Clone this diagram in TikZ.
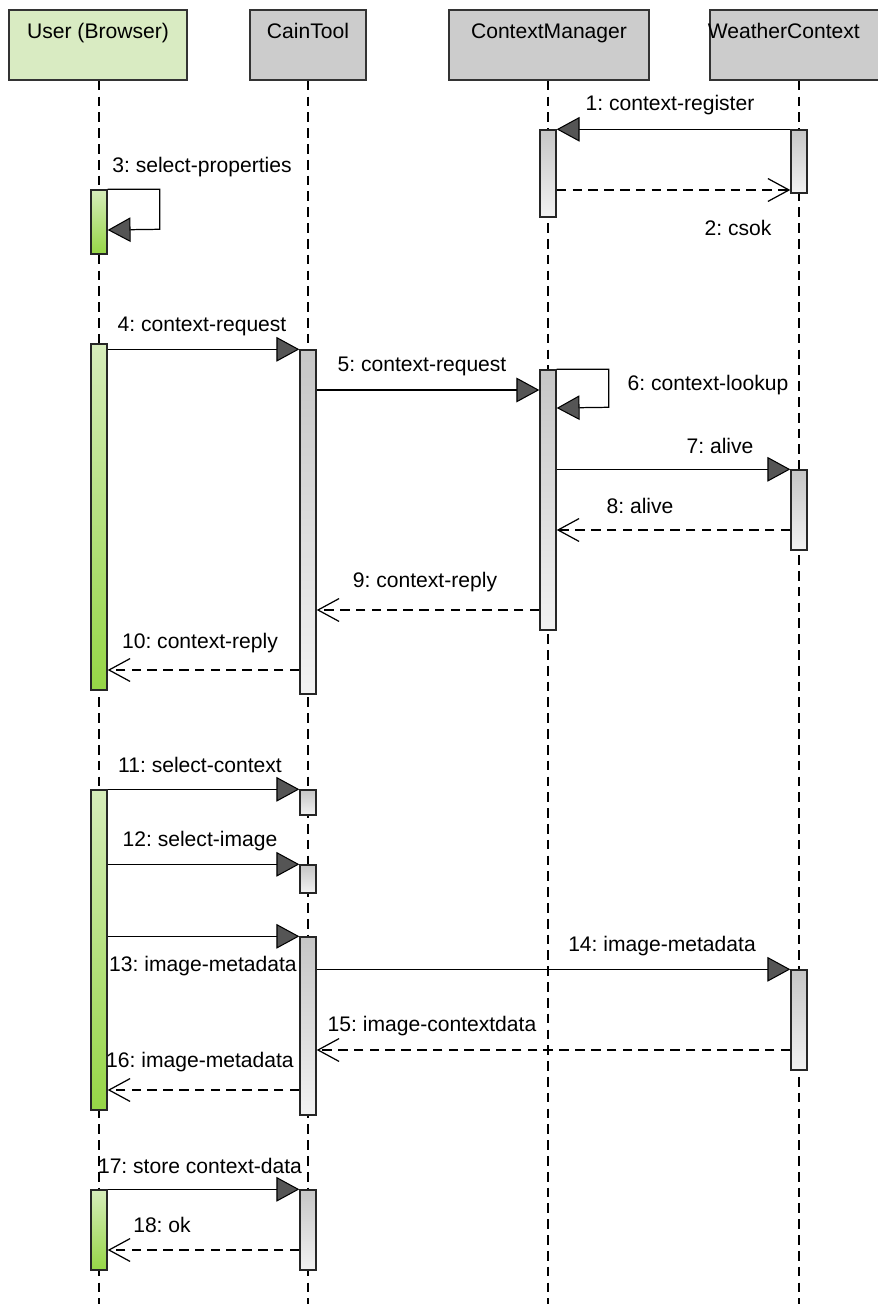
\documentclass[tikz,border=0pt]{standalone}
\usepackage{fontspec}
\setmainfont{Liberation Sans}
\usetikzlibrary{arrows.meta}
\frenchspacing

\definecolor{headgray}{HTML}{CCCCCC}
\definecolor{headgreen}{HTML}{D9EBC2}
\definecolor{greenlight}{HTML}{D6ECBA}
\definecolor{greendark}{HTML}{96D646}
\definecolor{graytop}{HTML}{C6C6C6}
\definecolor{graybot}{HTML}{F2F2F2}
\definecolor{tipgray}{HTML}{555555}

\tikzset{
  head/.style={draw=black!80, line width=0.9pt, fill=headgray, minimum height=1.4cm, inner sep=0pt},
  life/.style={line width=0.7pt, dash pattern=on 5.5pt off 3.5pt},
  act/.style={draw=black!85, line width=0.8pt, minimum width=0.32cm, inner sep=0pt,
    top color=graytop, bottom color=graybot},
  useract/.style={act, top color=greenlight, bottom color=greendark},
  call/.style={line width=0.7pt, -{Triangle[length=13pt,width=14pt,fill=tipgray,line width=0.6pt]}},
  reply/.style={line width=0.7pt, dash pattern=on 5.5pt off 3.5pt, -{Straight Barb[length=12pt,width=13pt,line width=0.7pt]}},
  msg/.style={font=\fontsize{12}{14}\selectfont, inner sep=0pt}
}

% bar: style, name, x, top, bottom
\newcommand{\actbar}[5]{\node[#1, minimum height={(#5-#4)*0.02cm}] (#2) at (#3,{(#4+#5)/2}) {};}

\begin{document}
\begin{tikzpicture}[x=0.02cm,y=-0.02cm]
  \useasboundingbox (0,0) rectangle (877,1304);

  % heads
  \node[head, fill=headgreen, minimum width=3.55cm] (user) at (98,45) {};
  \node[head, minimum width=2.32cm] (tool) at (308,45) {};
  \node[head, minimum width=4.0cm] (mgr) at (549,45) {};
  \node[head, minimum width=3.4cm] (wthr) at (795,45) {};
  \node[msg, anchor=north] (usert) at ([yshift=-8pt]user.north) {User (Browser)};
  \node[msg, anchor=north] (toolt) at ([yshift=-8pt]tool.north) {CainTool};
  \node[msg, anchor=north] (mgrt) at ([yshift=-8pt]mgr.north) {ContextManager};
  \node[msg, anchor=north west] (wthrt) at ([xshift=-1pt,yshift=-8pt]wthr.north west) {WeatherContext};

  % lifelines
  \foreach \n/\x in {user/99,tool/308,mgr/548,wthr/799}
    \draw[life] (\n.south -| \x,0) -- (\x,1304);

  % activations
  \actbar{act}{m1}{548}{130}{217}
  \actbar{act}{w1}{799}{130}{193}
  \actbar{useract}{u1}{99}{190}{254}
  \actbar{useract}{u2}{99}{344}{690}
  \actbar{act}{t1}{308}{350}{694}
  \actbar{act}{m2}{548}{370}{630}
  \actbar{act}{w2}{799}{470}{550}
  \actbar{useract}{u3}{99}{790}{1110}
  \actbar{act}{t2}{308}{790}{815}
  \actbar{act}{t3}{308}{865}{893}
  \actbar{act}{t4}{308}{937}{1115}
  \actbar{act}{w3}{799}{970}{1070}
  \actbar{useract}{u4}{99}{1190}{1270}
  \actbar{act}{t5}{308}{1190}{1270}

  % messages
  \draw[call] (w1.north west) -- (m1.north east);
  \draw[reply] (m1.east |- 0,190) -- (w1.west |- 0,190);
  \draw[call] (u1.north east) -- ++(52,0) -- ++(0,40) -- (u1.east |- 0,230);
  \draw[call] (u2.east |- t1.north) -- (t1.north west);
  \draw[call] (t1.east |- 0,390) -- (m2.west |- 0,390);
  \draw[call] (m2.north east) -- ++(52,0) -- ++(0,38) -- (m2.east |- 0,408);
  \draw[call] (m2.east |- w2.north) -- (w2.north west);
  \draw[reply] (w2.west |- 0,530) -- (m2.east |- 0,530);
  \draw[reply] (m2.west |- 0,610) -- (t1.east |- 0,610);
  \draw[reply] (t1.west |- 0,670) -- (u2.east |- 0,670);
  \draw[call] (u3.north east) -- (t2.north west);
  \draw[call] (u3.east |- t3.north) -- (t3.north west);
  \draw[call] (u3.east |- t4.north) -- (t4.north west);
  \draw[call] (t4.east |- w3.north) -- (w3.north west);
  \draw[reply] (w3.west |- 0,1050) -- (t4.east |- 0,1050);
  \draw[reply] (t4.west |- 0,1090) -- (u3.east |- 0,1090);
  \draw[call] (u4.north east) -- (t5.north west);
  \draw[reply] (t5.west |- 0,1250) -- (u4.east |- 0,1250);

  % labels
  \node[msg] (l1) at (670,105) {1: context-register};
  \node[msg] (l2) at (738,228) {2: csok};
  \node[msg] (l3) at (202,167) {3: select-properties};
  \node[msg] (l4) at (202,326) {4: context-request};
  \node[msg] (l5) at (422,366) {5: context-request};
  \node[msg] (l6) at (708,385) {6: context-lookup};
  \node[msg] (l7) at (720,446) {7: alive};
  \node[msg] (l8) at (640,506) {8: alive};
  \node[msg] (l9) at (425,582) {9: context-reply};
  \node[msg] (l10) at (200,643) {10: context-reply};
  \node[msg] (l11) at (200,765) {11: select-context};
  \node[msg] (l12) at (200,841) {12: select-image};
  \node[msg] (l13) at (203,966) {13: image-metadata};
  \node[msg] (l14) at (662,946) {14: image-metadata};
  \node[msg] (l15) at (432,1026) {15: image-contextdata};
  \node[msg] (l16) at (200,1062) {16: image-metadata};
  \node[msg] (l17) at (200,1166) {17: store context-data};
  \node[msg] (l18) at (162,1225) {18: ok};
\end{tikzpicture}
\end{document}
